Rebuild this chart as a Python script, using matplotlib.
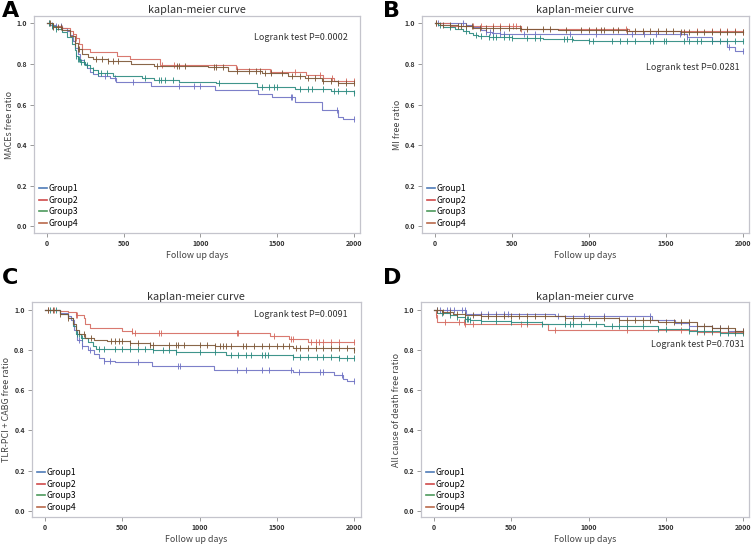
import numpy as np
import matplotlib
matplotlib.use("Agg")
import matplotlib.pyplot as plt
from matplotlib.lines import Line2D

plt.rcParams['font.family'] = ['Noto Sans CJK JP', 'DejaVu Sans']

groups = ["Group1", "Group2", "Group3", "Group4"]
line_colors = ["#6f72c4", "#d56b60", "#2b8a80", "#7c5636"]
legend_colors = ["#4f7bb8", "#d04a4a", "#4d9a5c", "#b9694c"]

panel_letters = ["A", "B", "C", "D"]
ylabels = ["MACEs free ratio", "MI free ratio", "TLR-PCI + CABG free ratio", "All cause of death free ratio"]
logrank = ["Logrank test P=0.0002", "Logrank test P=0.0281", "Logrank test P=0.0091", "Logrank test P=0.7031"]
xticks = [0, 500, 1000, 1500, 2000]
yticks = [0.0, 0.2, 0.4, 0.6, 0.8, 1.0]

# ---- Panel A (MACEs) ----
A_g1_t = [0, 20, 60, 100, 130, 150, 170, 185, 200, 215, 240, 260, 280, 300, 330, 410, 450, 680, 1094, 1375, 1464, 1616, 1790, 1896, 1930, 2000]
A_g1_s = [1.0, 0.99, 0.985, 0.975, 0.96, 0.94, 0.91, 0.88, 0.85, 0.82, 0.80, 0.78, 0.76, 0.75, 0.74, 0.73, 0.71, 0.69, 0.672, 0.652, 0.636, 0.611, 0.574, 0.541, 0.527, 0.527]
A_g1_c = [30, 60, 90, 100, 380, 440, 560, 860, 960, 1000, 1590, 1600, 1890, 2000]
A_g2_t = [0, 30, 100, 150, 170, 190, 210, 230, 280, 454, 540, 736, 1235, 1453, 1690, 1800, 1870, 2000]
A_g2_s = [1.0, 0.985, 0.975, 0.96, 0.945, 0.925, 0.90, 0.875, 0.857, 0.84, 0.822, 0.792, 0.775, 0.76, 0.745, 0.73, 0.715, 0.715]
A_g2_c = [10, 40, 170, 190, 750, 830, 1240, 1460, 1620, 1780, 1860, 1950, 2000]
A_g3_t = [0, 30, 60, 100, 130, 160, 180, 190, 200, 215, 250, 280, 300, 330, 430, 620, 700, 860, 1100, 1366, 1616, 1855, 2000]
A_g3_s = [1.0, 0.985, 0.97, 0.955, 0.93, 0.90, 0.87, 0.84, 0.825, 0.81, 0.795, 0.78, 0.77, 0.757, 0.742, 0.73, 0.72, 0.713, 0.705, 0.688, 0.676, 0.664, 0.656]
A_g3_c = [10, 30, 60, 190, 200, 210, 220, 240, 260, 300, 330, 350, 390, 640, 730, 740, 770, 820, 1120, 1400, 1450, 1480, 1500, 1650, 1700, 1730, 1800, 1870, 1900, 1950, 2000]
A_g4_t = [0, 40, 100, 150, 180, 200, 230, 270, 300, 400, 550, 700, 1050, 1180, 1399, 1570, 1681, 1790, 1900, 2000]
A_g4_s = [1.0, 0.98, 0.965, 0.935, 0.905, 0.875, 0.85, 0.835, 0.826, 0.815, 0.80, 0.79, 0.784, 0.767, 0.754, 0.741, 0.73, 0.718, 0.708, 0.705]
A_g4_c = [20, 40, 70, 90, 180, 200, 210, 320, 360, 400, 430, 460, 720, 850, 860, 900, 1090, 1100, 1150, 1240, 1320, 1360, 1390, 1420, 1460, 1530, 1600, 1650, 1700, 1750, 1800, 1850, 1900, 1950, 2000]

# ---- Panel B (MI) ----
B_g1_t = [0, 200, 250, 300, 330, 370, 420, 1640, 1800, 1900, 1950, 2000]
B_g1_s = [1.0, 0.99, 0.98, 0.965, 0.955, 0.95, 0.945, 0.93, 0.91, 0.885, 0.865, 0.865]
B_g1_c = [20, 180, 330, 360, 380, 420, 450, 580, 650, 880, 1050, 1280, 1360, 1440, 1590, 1640, 1800, 1910, 2000]
B_g2_t = [0, 100, 560, 1260, 2000]
B_g2_s = [1.0, 0.987, 0.973, 0.96, 0.958]
B_g2_c = [10, 100, 250, 300, 380, 420, 480, 510, 530, 560, 1240, 1700, 1800, 1850, 1900, 1950, 2000]
B_g3_t = [0, 20, 50, 130, 180, 220, 250, 280, 350, 500, 700, 900, 1000, 2000]
B_g3_s = [1.0, 0.99, 0.98, 0.97, 0.96, 0.95, 0.94, 0.935, 0.93, 0.925, 0.92, 0.915, 0.912, 0.912]
B_g3_c = [30, 100, 200, 270, 300, 350, 380, 400, 450, 480, 500, 600, 650, 680, 840, 860, 890, 1000, 1030, 1150, 1200, 1250, 1300, 1400, 1420, 1490, 1500, 1620, 1650, 1700, 1730, 1800, 1850, 1900, 1950, 2000]
B_g4_t = [0, 30, 150, 250, 560, 800, 1250, 1600, 2000]
B_g4_s = [1.0, 0.99, 0.985, 0.978, 0.972, 0.968, 0.962, 0.958, 0.956]
B_g4_c = [10, 50, 100, 150, 170, 200, 240, 290, 330, 380, 420, 480, 550, 600, 700, 750, 850, 950, 1000, 1050, 1080, 1100, 1160, 1190, 1250, 1300, 1350, 1400, 1450, 1500, 1550, 1600, 1620, 1650, 1700, 1750, 1800, 1850, 1900, 1950, 2000]

# ---- Panel C (TLR-PCI + CABG) ----
C_g1_t = [0, 100, 150, 170, 190, 210, 240, 280, 320, 350, 380, 450, 690, 1090, 1600, 1870, 1925, 1950, 2000]
C_g1_s = [1.0, 0.985, 0.97, 0.95, 0.90, 0.85, 0.82, 0.80, 0.78, 0.76, 0.745, 0.737, 0.72, 0.70, 0.688, 0.675, 0.655, 0.645, 0.645]
C_g1_c = [220, 240, 290, 380, 420, 600, 860, 870, 1240, 1300, 1400, 1450, 1590, 1640, 1780, 1800, 1920, 2000]
C_g2_t = [0, 100, 150, 200, 250, 260, 290, 500, 565, 1455, 1580, 1700, 2000]
C_g2_s = [1.0, 0.995, 0.99, 0.975, 0.96, 0.93, 0.91, 0.895, 0.884, 0.867, 0.854, 0.838, 0.838]
C_g2_c = [20, 60, 200, 210, 560, 580, 740, 750, 1240, 1250, 1480, 1590, 1600, 1720, 1750, 1770, 1800, 1850, 1900, 2000]
C_g3_t = [0, 100, 150, 180, 200, 230, 280, 310, 330, 700, 850, 1168, 1600, 1900, 2000]
C_g3_s = [1.0, 0.98, 0.96, 0.92, 0.88, 0.86, 0.84, 0.82, 0.805, 0.80, 0.789, 0.776, 0.766, 0.76, 0.758]
C_g3_c = [30, 70, 210, 220, 240, 350, 380, 450, 500, 550, 600, 650, 700, 760, 800, 850, 1000, 1100, 1200, 1250, 1300, 1330, 1400, 1420, 1440, 1600, 1650, 1700, 1760, 1800, 1850, 1900, 1950, 2000]
C_g4_t = [0, 100, 150, 180, 200, 220, 260, 320, 400, 550, 680, 1100, 1600, 2000]
C_g4_s = [1.0, 0.98, 0.96, 0.93, 0.90, 0.88, 0.86, 0.85, 0.845, 0.835, 0.825, 0.818, 0.81, 0.801]
C_g4_c = [20, 50, 100, 150, 250, 300, 430, 450, 480, 500, 550, 600, 680, 700, 800, 850, 860, 900, 1000, 1050, 1100, 1130, 1150, 1170, 1200, 1280, 1300, 1350, 1400, 1450, 1500, 1540, 1580, 1620, 1650, 1700, 1750, 1800, 1850, 1900, 1950, 2000]

# ---- Panel D (All cause death) ----
D_g1_t = [0, 204, 782, 1410, 1560, 1650, 1800, 1900, 2000]
D_g1_s = [1.0, 0.977, 0.969, 0.948, 0.935, 0.92, 0.91, 0.895, 0.895]
D_g1_c = [20, 40, 80, 100, 130, 180, 200, 300, 350, 400, 450, 480, 800, 970, 1100, 1400, 1650, 1800, 1850, 2000]
D_g2_t = [0, 10, 20, 200, 740, 1700, 2000]
D_g2_s = [1.0, 0.975, 0.94, 0.93, 0.90, 0.89, 0.888]
D_g2_c = [10, 70, 160, 190, 200, 250, 560, 600, 780, 1250, 1600, 1700, 1750, 1800, 1900, 2000]
D_g3_t = [0, 20, 100, 150, 200, 230, 300, 500, 700, 1100, 1450, 1650, 1850, 2000]
D_g3_s = [1.0, 0.985, 0.975, 0.965, 0.955, 0.95, 0.945, 0.937, 0.93, 0.916, 0.905, 0.895, 0.885, 0.885]
D_g3_c = [50, 100, 150, 200, 210, 220, 230, 300, 400, 500, 600, 700, 850, 880, 900, 950, 1050, 1150, 1200, 1250, 1350, 1450, 1500, 1650, 1700, 1750, 1800, 1850, 1900, 1950, 2000]
D_g4_t = [0, 50, 120, 200, 300, 500, 850, 1200, 1450, 1700, 1800, 1950, 2000]
D_g4_s = [1.0, 0.99, 0.98, 0.975, 0.97, 0.966, 0.96, 0.95, 0.94, 0.92, 0.91, 0.895, 0.895]
D_g4_c = [20, 60, 100, 150, 200, 250, 300, 350, 400, 450, 500, 550, 600, 650, 720, 850, 900, 1000, 1100, 1200, 1250, 1300, 1350, 1400, 1500, 1550, 1600, 1650, 1700, 1750, 1800, 1850, 1900, 1950, 2000]

panels = [
    [(A_g1_t, A_g1_s, A_g1_c), (A_g2_t, A_g2_s, A_g2_c), (A_g3_t, A_g3_s, A_g3_c), (A_g4_t, A_g4_s, A_g4_c)],
    [(B_g1_t, B_g1_s, B_g1_c), (B_g2_t, B_g2_s, B_g2_c), (B_g3_t, B_g3_s, B_g3_c), (B_g4_t, B_g4_s, B_g4_c)],
    [(C_g1_t, C_g1_s, C_g1_c), (C_g2_t, C_g2_s, C_g2_c), (C_g3_t, C_g3_s, C_g3_c), (C_g4_t, C_g4_s, C_g4_c)],
    [(D_g1_t, D_g1_s, D_g1_c), (D_g2_t, D_g2_s, D_g2_c), (D_g3_t, D_g3_s, D_g3_c), (D_g4_t, D_g4_s, D_g4_c)],
]

axes_rects = [
    [0.045, 0.5725, 0.431, 0.398],
    [0.558, 0.5725, 0.4325, 0.398],
    [0.042, 0.051, 0.435, 0.394],
    [0.557, 0.051, 0.434, 0.394],
]
letter_pos = [(0.002, 0.998), (0.506, 0.998), (0.002, 0.508), (0.506, 0.508)]
logrank_pos = [(0.963, 0.899), (0.972, 0.763), (0.96, 0.944), (0.985, 0.804)]

fig = plt.figure(figsize=(7.56, 5.45), dpi=100)
fig.patch.set_facecolor("white")

for i, rect in enumerate(axes_rects):
    ax = fig.add_axes(rect)
    for g, (t, s, c) in enumerate(panels[i]):
        t = np.asarray(t, float)
        s = np.asarray(s, float)
        ax.step(t, s, where="post", color=line_colors[g], lw=0.8, alpha=0.9)
        c = np.asarray(c, float)
        idx = np.searchsorted(t, c, side="right") - 1
        ax.plot(c, s[idx], ls="none", marker="|", ms=4, mew=0.7, color=line_colors[g], alpha=0.9)
    ax.set_xlim(-85, 2040)
    ax.set_ylim(-0.032, 1.035)
    ax.set_xticks(xticks)
    ax.set_yticks(yticks)
    ax.set_xticklabels([str(v) for v in xticks], fontsize=5, fontweight="bold", color="#333333")
    ax.set_yticklabels(["%.1f" % v for v in yticks], fontsize=5, fontweight="bold", color="#333333")
    ax.tick_params(length=3, width=0.6, color="#888888", pad=2)
    for sp in ax.spines.values():
        sp.set_color("#c4c4cc")
        sp.set_linewidth(0.9)
    ax.set_title("kaplan-meier curve", fontsize=7.8, color="#333333", pad=2)
    ax.set_xlabel("Follow up days", fontsize=6.4, color="#444444", labelpad=3)
    ax.set_ylabel(ylabels[i], fontsize=6.4, color="#444444", labelpad=2)
    ax.text(logrank_pos[i][0], logrank_pos[i][1], logrank[i], transform=ax.transAxes,
            ha="right", va="center", fontsize=6.5, color="#333333")
    handles = [Line2D([0], [0], color=legend_colors[g], lw=1.2) for g in range(4)]
    ax.legend(handles, groups, loc="lower left", frameon=False, fontsize=6.2,
              handlelength=0.9, handletextpad=0.2, labelspacing=0.3,
              borderaxespad=0.2, bbox_to_anchor=(0.0, 0.0))
    fig.text(letter_pos[i][0], letter_pos[i][1], panel_letters[i], fontsize=16,
             fontweight="bold", ha="left", va="top", family="DejaVu Sans")

fig.savefig("out.png", dpi=100, facecolor="white")
